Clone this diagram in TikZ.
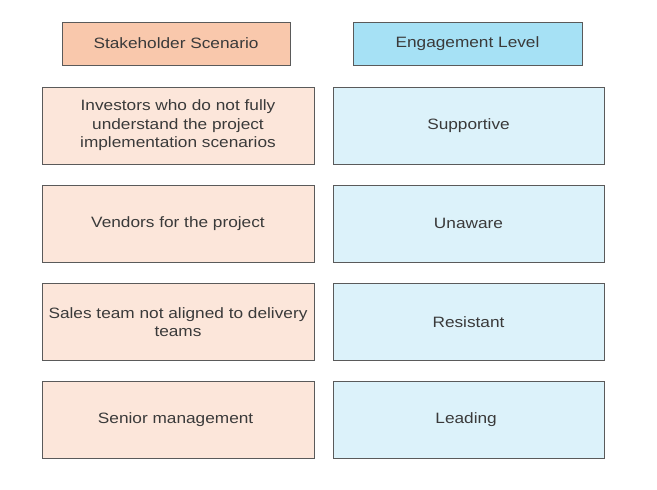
\documentclass[tikz,border=0pt]{standalone}
\usepackage{fontspec}
\setmainfont{Liberation Sans}
\newfontfamily\boxfont[FakeStretch=1.15]{Liberation Sans}
\usepackage{xcolor}
\usetikzlibrary{positioning}
\definecolor{headpeach}{HTML}{F9C8AC}
\definecolor{bodypeach}{HTML}{FCE6DA}
\definecolor{headblue}{HTML}{A6E1F5}
\definecolor{bodyblue}{HTML}{DCF2FA}
\definecolor{edgegray}{HTML}{5A5A5A}
\definecolor{textgray}{HTML}{3A3A3A}
\tikzset{
    cellbox/.style={draw=edgegray, line width=1pt, align=center, text=textgray,
        font=\boxfont\fontsize{15}{18.5}\selectfont, inner sep=1pt}
}

\begin{document}
\begin{tikzpicture}[x=1pt, y=-1pt]
    \useasboundingbox (0,0) rectangle (657,490);

    % Headers
    \node[cellbox, fill=headpeach, minimum width=228pt, minimum height=43pt] (headScen) at (176,43.5) {Stakeholder Scenario};
    \node[cellbox, fill=headblue, minimum width=229pt, minimum height=43pt] (headLevel) at (467.5,43.5) {Engagement Level};

    % Scenarios
    \foreach \i/\v in {
            0/{Investors who do not fully\\understand the project\\implementation scenarios},
            1/{Vendors for the project},
            2/{Sales team not aligned to delivery\\teams},
            3/{Senior management}
            } {
        \node[cellbox, fill=bodypeach, minimum width=272pt, minimum height=77pt] (scen\i) at (178,125.5+\i*98.2) {\v};
    }

    % Levels
    \foreach \i/\v in {
            0/Supportive,1/Unaware,
            2/Resistant,3/Leading
            } {
        \node[cellbox, fill=bodyblue, minimum width=271pt, minimum height=77pt] (level\i) at (468.5,125.5+\i*98.2) {\v};
    }
\end{tikzpicture}
\end{document}
